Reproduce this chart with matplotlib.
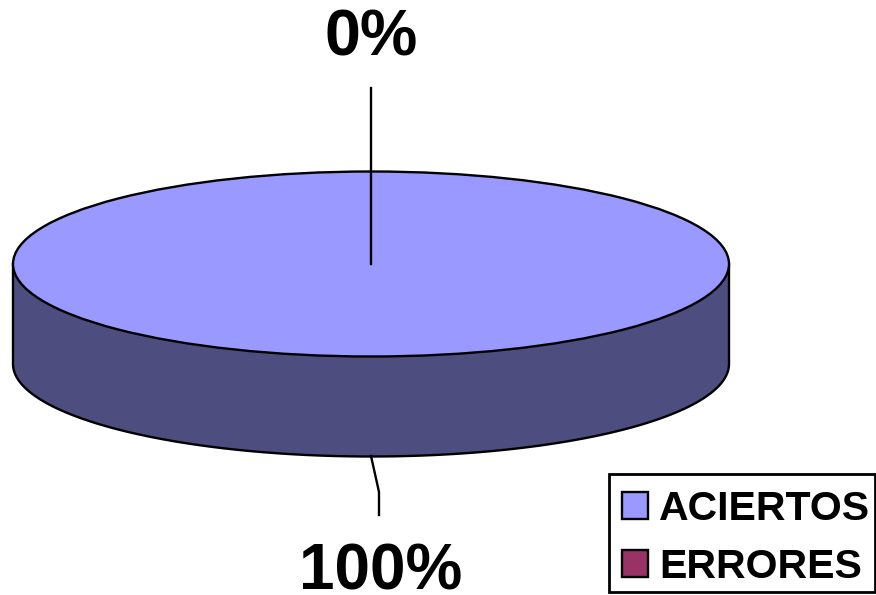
import numpy as np
import matplotlib
matplotlib.use("Agg")
import matplotlib.pyplot as plt
from matplotlib.patches import Ellipse, Polygon, Rectangle

plt.rcParams['font.family'] = ['Liberation Sans', 'DejaVu Sans']

categories = ["ACIERTOS", "ERRORES"]
values = [100, 0]
shares = ["100%", "0%"]
top_colours = ["#9999FF", "#993366"]
side_colour = "#4D4D80"

W, H = 876, 595
fig = plt.figure(figsize=(W / 100, H / 100), dpi=100)
ax = fig.add_axes([0, 0, 1, 1])
ax.set_xlim(0, W)
ax.set_ylim(H, 0)
ax.axis("off")

cx, cy, rx, ry, depth = 371, 264, 358, 92.5, 100
edge = 1.7

# Cylinder wall below the top face
t = np.linspace(0, np.pi, 300)
xs = cx + rx * np.cos(t)
ys = cy + depth + ry * np.sin(t)
wall = np.column_stack([np.r_[cx + rx, xs, cx - rx], np.r_[cy, ys, cy]])
ax.add_patch(Polygon(wall, closed=True, fc=side_colour, ec="black", lw=edge, zorder=1))

# Top face: the whole disc belongs to the first category
total = sum(values)
assert values[0] == total
ax.add_patch(Ellipse((cx, cy), 2 * rx, 2 * ry, fc=top_colours[0], ec="black", lw=edge, zorder=2))

# Leader lines
ax.plot([371, 371], [88, 264], color="black", lw=edge, zorder=3)
ax.plot([371, 379, 379], [456, 492, 515], color="black", lw=edge, zorder=3)

# Value labels
ax.text(371, 56, shares[1], ha="center", va="baseline", fontsize=46.5, fontweight="bold")
ax.text(380.5, 590, shares[0], ha="center", va="baseline", fontsize=46, fontweight="bold",
        clip_on=False)

# Legend
ax.add_patch(Rectangle((609, 473.5), 266, 118.5, fc="white", ec="black", lw=2.0, zorder=3))
baselines = [520, 578]
for name, colour, base in zip(categories, top_colours, baselines):
    ax.add_patch(Rectangle((622, base - 28), 26, 27, fc=colour, ec="black", lw=edge, zorder=4))
    ax.text(659, base, name, ha="left", va="baseline", fontsize=29.5, fontweight="bold", zorder=4)

fig.savefig("out.png", dpi=100)
